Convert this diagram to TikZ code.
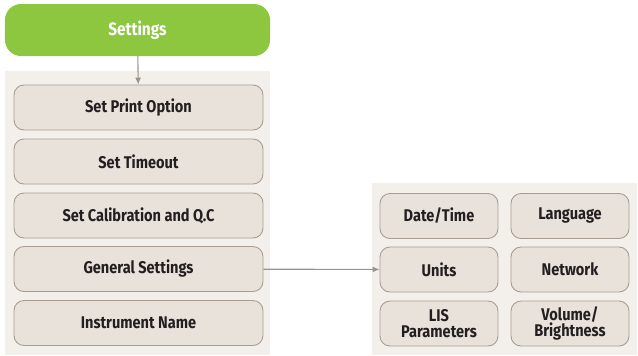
\documentclass[tikz,border=0pt]{standalone}
\usepackage{fontspec}
\setmainfont[FakeStretch = 0.86]{Fira Sans}
\usetikzlibrary{positioning, arrows.meta}

\definecolor{leafgreen}{HTML}{8DC63F}
\definecolor{panelbg}{HTML}{F3F0EB}
\definecolor{itembg}{HTML}{E9E2DB}
\definecolor{itemline}{HTML}{A99D92}
\definecolor{linkgray}{HTML}{9C928A}
\definecolor{labeltext}{HTML}{231F20}

\tikzset{
	menuitem/.style = {draw = itemline, fill = itembg, line width = 0.9bp, rounded corners = 10bp,
		minimum width = 249bp, minimum height = 45bp, inner sep = 0pt, align = center,
		text = labeltext, font = \bfseries\fontsize{17}{16.5}\selectfont},
	subitem/.style = {menuitem, minimum width = 118bp},
	link/.style = {->, draw = linkgray, line width = 1.1bp}
}

\begin{document}
\begin{tikzpicture}[> = {Latex[length = 7bp, width = 6bp]}, x = 1bp, y = -1bp]

	% Frame

	\useasboundingbox (0, 0) rectangle (638, 355);

	% Panels

	\fill [panelbg] (5, 71) rectangle (270, 355);
	\fill [panelbg] (372, 183) rectangle (637, 355);

	% Header

	\node (settings) [fill = leafgreen, rounded corners = 16bp, minimum width = 265bp, minimum height = 52bp,
		text = white, font = \bfseries\fontsize{18}{17}\selectfont] at (137.5, 30) {Settings};

	% Left column

	\node (print) [menuitem] at (138.5, 107.5) {Set Print Option};
	\node (timeout) [menuitem] at (138.5, 161.5) {Set Timeout};
	\node (calib) [menuitem] at (138.5, 215.5) {Set Calibration and Q.C};
	\node (general) [menuitem] at (138.5, 269) {General Settings};
	\node (instrument) [menuitem] at (138.5, 323) {Instrument Name};

	% Right grid

	\node (datetime) [subitem] at (439, 216) {Date/Time};
	\node (language) [subitem] at (570, 216) {Language};
	\node (units) [subitem] at (439, 269.5) {Units};
	\node (network) [subitem] at (570, 269.5) {Network};
	\node (lis) [subitem] at (439, 323.5) {LIS\\Parameters};
	\node (volume) [subitem] at (570, 323.5) {Volume/\\Brightness};

	% Links

	\draw [link] (settings) -- (print);
	\draw [link] (general) -- (units);

\end{tikzpicture}
\end{document}
